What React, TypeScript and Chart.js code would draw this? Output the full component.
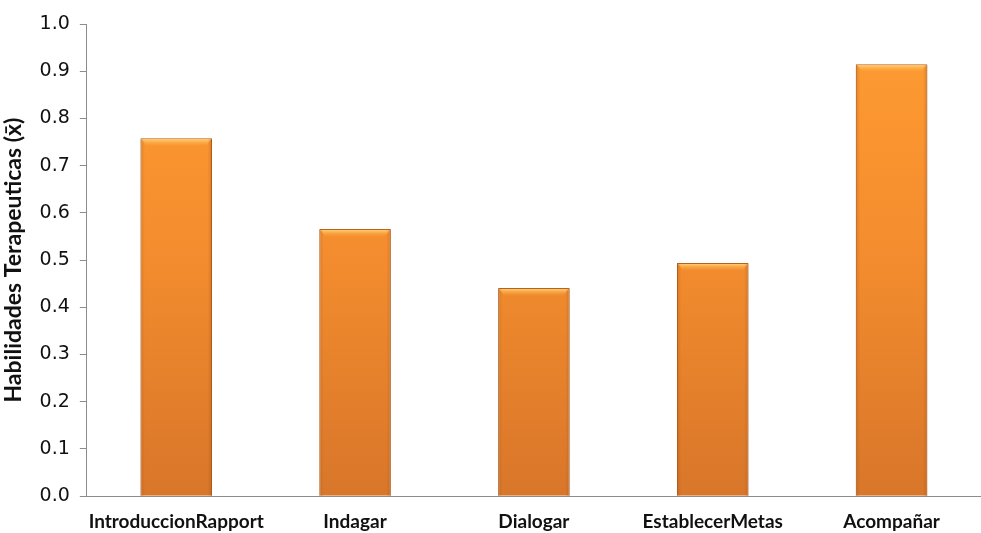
import React, { useEffect, useRef } from "react";
import { Chart, registerables } from "chart.js";

Chart.register(...registerables);

const categories = ["IntroduccionRapport", "Indagar", "Dialogar", "EstablecerMetas", "Acompañar"];
const values = [0.758, 0.566, 0.441, 0.494, 0.915];
const yTitle = "Habilidades Terapeuticas (x\u0304)";

const bevelPlugin = {
  id: "bevel",
  afterDatasetsDraw(chart: any) {
    const ctx = chart.ctx;
    const meta = chart.getDatasetMeta(0);
    meta.data.forEach((bar: any) => {
      const { x, y, width } = bar.getProps(["x", "y", "width"], true);
      const left = x - width / 2;
      ctx.save();
      const g = ctx.createLinearGradient(0, y, 0, y + 8);
      g.addColorStop(0, "rgba(255,225,140,0.95)");
      g.addColorStop(1, "rgba(255,170,60,0)");
      ctx.fillStyle = g;
      ctx.beginPath();
      ctx.moveTo(left + 1, y + 1);
      ctx.lineTo(left + width - 1, y + 1);
      ctx.lineTo(left + width - 6, y + 8);
      ctx.lineTo(left + 6, y + 8);
      ctx.closePath();
      ctx.fill();
      const s = ctx.createLinearGradient(left, 0, left + width, 0);
      s.addColorStop(0, "rgba(150,70,10,0.25)");
      s.addColorStop(0.06, "rgba(150,70,10,0)");
      s.addColorStop(0.94, "rgba(150,70,10,0)");
      s.addColorStop(1, "rgba(150,70,10,0.3)");
      ctx.fillStyle = s;
      const base = chart.scales.y.getPixelForValue(0);
      ctx.fillRect(left, y + 1, width, base - y - 1);
      ctx.restore();
    });
  },
};

export default function App() {
  const ref = useRef<HTMLCanvasElement>(null);
  useEffect(() => {
    document.body.style.margin = "0";
    const chart = new Chart(ref.current!, {
      type: "bar",
      data: {
        labels: categories,
        datasets: [
          {
            data: values,
            backgroundColor: (c: any) => {
              const area = c.chart.chartArea;
              if (!area) return "#F08A28";
              const g = c.chart.ctx.createLinearGradient(0, area.top, 0, area.bottom);
              g.addColorStop(0, "#FF9C32");
              g.addColorStop(0.5, "#F38C2E");
              g.addColorStop(1, "#D8762A");
              return g;
            },
            borderColor: "#B8621C",
            borderWidth: 1,
            barPercentage: 0.4,
            categoryPercentage: 1,
          },
        ],
      },
      options: {
        animation: false,
        responsive: false,
        maintainAspectRatio: false,
        layout: { padding: { top: 24, right: 0, left: 0, bottom: -14 } },
        plugins: { legend: { display: false }, tooltip: { enabled: false } },
        scales: {
          x: {
            grid: { display: false, drawTicks: false },
            border: { color: "#8c8c8c", width: 1 },
            ticks: {
              color: "#111",
              padding: 14,
              font: { family: "Lato", size: 19, weight: 700 },
              maxRotation: 0,
              autoSkip: false,
            },
          },
          y: {
            min: 0,
            max: 1,
            grid: { drawOnChartArea: false, drawTicks: true, tickLength: 7, color: "#8c8c8c" },
            border: { color: "#8c8c8c", width: 1 },
            ticks: {
              stepSize: 0.1,
              color: "#111",
              padding: 10,
              font: { family: "'DejaVu Sans'", size: 19 },
              callback: (v: any) => Number(v).toFixed(1),
            },
            title: {
              display: true,
              text: yTitle,
              color: "#111",
              font: { family: "Lato", size: 23, weight: 700 },
              padding: { top: 0, bottom: 2 },
            },
          },
        },
      },
      plugins: [bevelPlugin],
    });
    return () => chart.destroy();
  }, []);
  return (
    <div style={{ width: 981, height: 533, background: "#fff" }}>
      <canvas ref={ref} width={981} height={533} style={{ display: "block" }} />
    </div>
  );
}
